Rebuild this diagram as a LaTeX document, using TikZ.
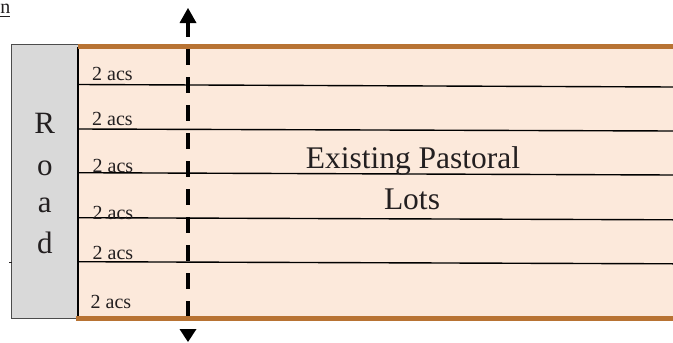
\documentclass[tikz,border=0pt]{standalone}
\usepackage{fontspec}
\setmainfont{Liberation Serif}
\definecolor{lotfill}{HTML}{FCE9DB}
\definecolor{lotedge}{HTML}{B87333}
\definecolor{roadfill}{HTML}{D9D9D9}
\definecolor{ink}{HTML}{231F20}
\begin{document}
\begin{tikzpicture}[x=1pt,y=-1pt,
  acs/.style={anchor=base west,inner sep=0pt,font=\fontsize{20}{20}\selectfont,text=ink},
  roadletter/.style={anchor=base,inner sep=0pt,font=\fontsize{31}{31}\selectfont,text=ink},
  bigtext/.style={anchor=base,inner sep=0pt,font=\fontsize{31.5}{31.5}\selectfont,text=ink},
  lotline/.style={draw=black,line width=1.4pt},
  edge/.style={draw=lotedge,line width=5pt},
  arrowhead/.style={fill=black,draw=none}]
\useasboundingbox (0,0) rectangle (673,343);
% lots area
\fill[lotfill] (78,46) rectangle (673,318.5);
% road
\draw[fill=roadfill,draw=black!70,line width=0.8pt] (11,44) rectangle (78,318);
% dashed north-south line
\draw[line width=3.6pt,black,dash pattern=on 16 off 12] (188,21) -- (188,317);
% horizontal lot lines
\draw[lotline] (78,84.5) -- (673,87);
\draw[lotline] (78,129) -- (673,131);
\draw[lotline] (78,172.7) -- (673,175);
\draw[lotline] (78,217.7) -- (673,219.8);
\draw[lotline] (78,261.7) -- (673,263.8);
% left lot edge
\draw[black,line width=1.6pt] (78,47) -- (78,317);
% top and bottom boundaries
\draw[edge] (78,46) -- (673,46);
\draw[edge] (76,318.5) -- (673,318.5);
% arrowheads
\fill[arrowhead] (188,8) -- (196.5,23) -- (179.5,23) -- cycle;
\fill[arrowhead] (188,342) -- (196.5,329) -- (179.5,329) -- cycle;
% labels
\node[acs] (l1) at (92,80.5) {2 acs};
\node[acs] (l2) at (92,125) {2 acs};
\node[acs] (l3) at (92.5,172) {2 acs};
\node[acs] (l4) at (92.5,219) {2 acs};
\node[acs] (l5) at (92.5,259) {2 acs};
\node[acs] (l6) at (90.5,308) {2 acs};
\node[roadletter] (rR) at (44.8,133) {R};
\node[roadletter] (rO) at (44.8,175) {o};
\node[roadletter] (rA) at (44.8,212) {a};
\node[roadletter] (rD) at (44.8,253) {d};
\node[bigtext] (ex) at (413,168) {Existing Pastoral};
\node[bigtext] (lots) at (412,209) {Lots};
% fragment at top left
\node[anchor=base west,inner sep=0pt,font=\fontsize{20}{20}\selectfont,text=ink] (frag) at (0.3,13.5) {n};
\draw[ink,line width=1pt] (0,16) -- (10.3,16);
\draw[ink,line width=0.8pt] (9,262) -- (12,262);
\end{tikzpicture}
\end{document}
